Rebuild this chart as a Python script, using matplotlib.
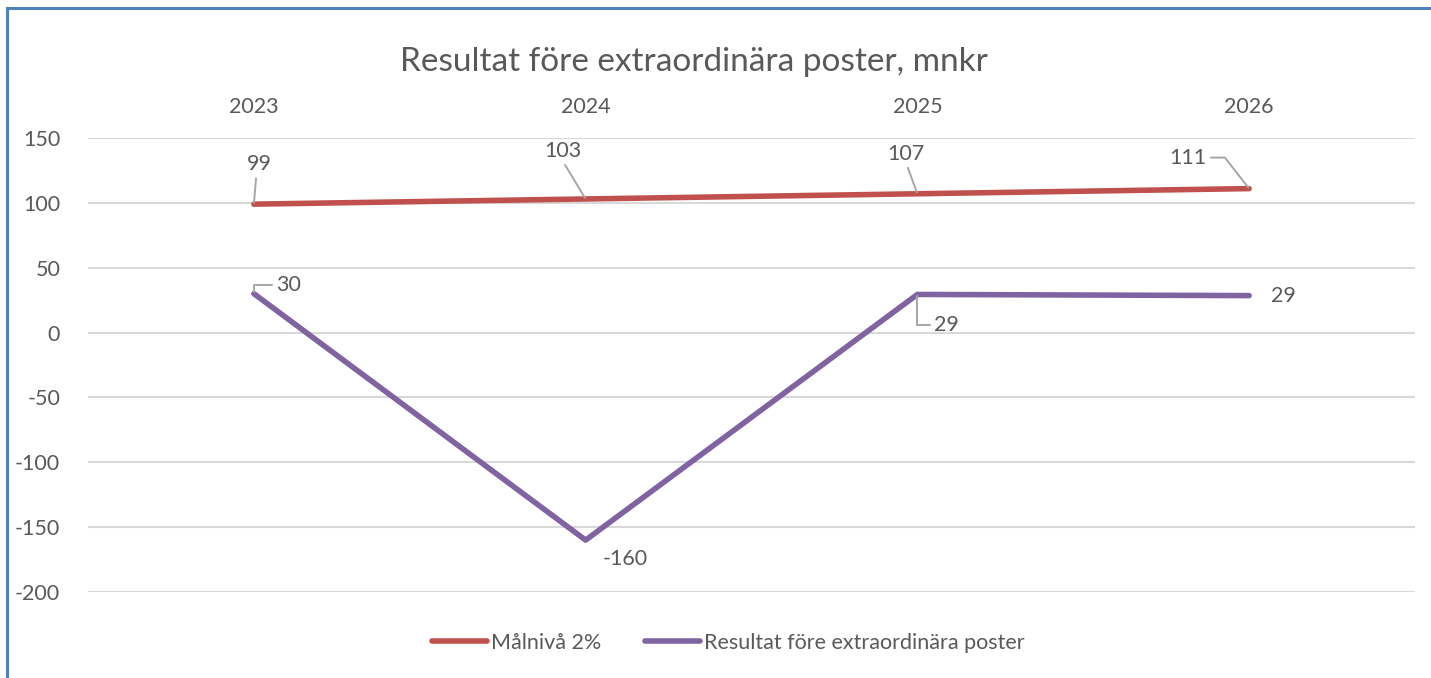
import matplotlib.pyplot as plt
from matplotlib.patches import Rectangle

plt.rcParams['font.family'] = ['Lato', 'DejaVu Sans']
plt.rcParams['axes.unicode_minus'] = False

# data
years = ['2023', '2024', '2025', '2026']
malniva = [99, 103, 107, 111]
resultat = [30, -160, 29.4, 28.5]
y_ticks = [150, 100, 50, 0, -50, -100, -150, -200]

grey = '#595959'
red = '#C0504D'
purple = '#8064A2'
fs = 15.5

fig = plt.figure(figsize=(14.31, 6.78), dpi=100)
ax = fig.add_axes([88 / 1431, 1 - 592 / 678, (1415 - 88) / 1431, (592 - 138) / 678])

x = list(range(len(years)))
ax.plot(x, malniva, color=red, lw=4, solid_capstyle='round', label='Målnivå 2%', zorder=3)
ax.plot(x, resultat, color=purple, lw=4, solid_capstyle='round',
        label='Resultat före extraordinära poster', zorder=3)

ax.set_xlim(-0.5, 3.5)
ax.set_ylim(-200, 150)
ax.set_yticks(y_ticks)
ax.set_xticks(x)
ax.set_xticklabels(years)
ax.xaxis.tick_top()
ax.tick_params(axis='x', length=0, pad=15, labelsize=fs, colors=grey)
ax.tick_params(axis='y', length=0, pad=20, labelsize=fs, colors=grey)
ax.grid(axis='y', color='#d9d9d9', lw=1.5)
ax.set_axisbelow(True)
for s in ax.spines.values():
    s.set_visible(False)

lead = '#a6a6a6'

def label(xi, yi, txt, dx, dy, relpos=(0.5, 0.5), conn='arc3', leader=True):
    ap = None
    if leader:
        ap = dict(arrowstyle='-', color=lead, lw=1.4, shrinkA=1, shrinkB=1,
                  relpos=relpos, connectionstyle=conn)
    ax.annotate(txt, (xi, yi), xytext=(dx, dy), textcoords='offset pixels',
                ha='center', va='center', fontsize=fs, color=grey,
                arrowprops=ap, zorder=4)

# Målnivå labels
label(0, malniva[0], '99', 5, 40, relpos=(0.4, 0))
label(1, malniva[1], '103', -23, 48, relpos=(0.5, 0))
label(2, malniva[2], '107', -11, 40, relpos=(0.5, 0))
label(3, malniva[3], '111', -61, 31, relpos=(1, 0.5), conn='angle,angleA=0,angleB=128,rad=0')

# Resultat labels
label(0, resultat[0], '30', 35, 9, relpos=(0, 0.5), conn='angle,angleA=0,angleB=90,rad=0')
label(1, resultat[1], '-160', 40, -19, leader=False)
label(2, resultat[2], '29', 29, -31, relpos=(0, 0.5), conn='angle,angleA=0,angleB=90,rad=0')
label(3, resultat[3], '29', 34, 0, leader=False)

fig.text(0.485, 1 - 62 / 678, 'Resultat före extraordinära poster, mnkr',
         ha='center', va='center', fontsize=24, color=grey)

fig.legend(loc='center', bbox_to_anchor=(0.509, 1 - 643 / 678), ncol=2, frameon=False,
           fontsize=fs, labelcolor=grey, handlelength=2.55, handletextpad=0.2,
           columnspacing=2.0)

# blue chart frame (top and left edge visible)
fig.patches.append(Rectangle((7 / 1431, -0.1), 1.2, 1 - 8 / 678 + 0.1, transform=fig.transFigure,
                             fill=False, edgecolor='#4F81BD', lw=2.2))

fig.savefig('out.png', dpi=100)
